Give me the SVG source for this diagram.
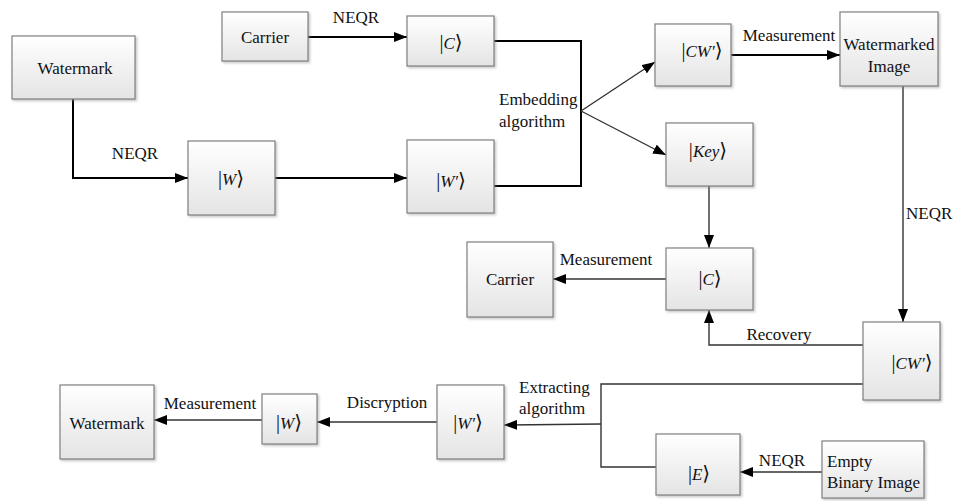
<svg xmlns="http://www.w3.org/2000/svg" width="956" height="501" viewBox="0 0 956 501">
<defs>
<linearGradient id="g" x1="0" y1="0" x2="0" y2="1"><stop offset="0" stop-color="#ffffff"/><stop offset="1" stop-color="#e4e4e4"/></linearGradient>
<filter id="sh" x="-10%" y="-10%" width="130%" height="130%"><feDropShadow dx="1.5" dy="1.5" stdDeviation="1" flood-color="#888" flood-opacity="0.5"/></filter>
<marker id="ah" markerUnits="userSpaceOnUse" markerWidth="14" markerHeight="10" refX="13" refY="5" orient="auto"><path d="M0,0 L13,5 L0,10 z" fill="#000"/></marker>
</defs>
<style>
.box{fill:url(#g);stroke:#808080;stroke-width:1.2;filter:url(#sh)}
text{font-family:'Liberation Serif','Times New Roman','DejaVu Serif',serif;font-size:17px;fill:#111}
.m{text-anchor:middle}
.k{text-anchor:middle}
.d{font-size:20px}
.i{font-style:italic}
.c{fill:none;stroke:#333;stroke-width:1.4}
.c2{fill:none;stroke:#000;stroke-width:2}
</style>
<rect width="956" height="501" fill="#fff"/>
<g id="connectors" font-family="Liberation Serif, serif">
<path class="c2" d="M73,99 V178 H188" marker-end="url(#ah)"/>
<path class="c2" d="M308,37 H407" marker-end="url(#ah)"/>
<path class="c2" d="M275,178 H407" marker-end="url(#ah)"/>
<path class="c2" d="M494,41 H581 V186 H494"/>
<path class="c" d="M581,111 L655,62" marker-end="url(#ah)"/>
<path class="c" d="M581,111 L666,155" marker-end="url(#ah)"/>
<path class="c2" d="M731,55 H840" marker-end="url(#ah)"/>
<path class="c" d="M903,86 V322" marker-end="url(#ah)"/>
<path class="c" d="M709,186 V248" marker-end="url(#ah)"/>
<path class="c" d="M666,279 H553" marker-end="url(#ah)"/>
<path class="c" d="M863,345 H709 V310" marker-end="url(#ah)"/>
<path class="c" d="M863,384 H601 V467 H656"/>
<path class="c" d="M601,424 L504,425" marker-end="url(#ah)"/>
<path class="c" d="M822,472 H740" marker-end="url(#ah)"/>
<path class="c" d="M437,422 H317" marker-end="url(#ah)"/>
<path class="c" d="M262,420 H154" marker-end="url(#ah)"/>
<text class="m" x="135" y="159">NEQR</text>
<text class="m" x="356" y="23">NEQR</text>
<text x="499" y="105">Embedding</text>
<text x="499" y="127">algorithm</text>
<text class="m" x="789" y="41">Measurement</text>
<text x="906" y="219">NEQR</text>
<text class="m" x="606" y="265">Measurement</text>
<text class="m" x="779" y="340">Recovery</text>
<text x="519" y="393">Extracting</text>
<text x="519" y="414">algorithm</text>
<text class="m" x="782" y="466">NEQR</text>
<text class="m" x="387" y="408">Discryption</text>
<text class="m" x="210" y="409">Measurement</text>
</g>
<g id="watermark-top"><rect class="box" x="12" y="36" width="123" height="63"/><text class="m" x="75" y="74">Watermark</text></g>
<g id="carrier-top"><rect class="box" x="222" y="12" width="86" height="49"/><text class="m" x="265" y="43">Carrier</text></g>
<g id="ket-w-top"><rect class="box" x="188" y="141" width="87" height="74"/><text class="k" x="231" y="185"><tspan class="d">|</tspan><tspan class="i">W</tspan><tspan class="d">⟩</tspan></text></g>
<g id="ket-c-top"><rect class="box" x="407" y="16" width="87" height="50"/><text class="k" x="451" y="49"><tspan class="d">|</tspan><tspan class="i">C</tspan><tspan class="d">⟩</tspan></text></g>
<g id="ket-wp-top"><rect class="box" x="407" y="140" width="87" height="73"/><text class="k" x="451" y="187"><tspan class="d">|</tspan><tspan class="i">W′</tspan><tspan class="d">⟩</tspan></text></g>
<g id="ket-cw-top"><rect class="box" x="655" y="24" width="76" height="62"/><text class="k" x="702" y="57"><tspan class="d">|</tspan><tspan class="i">CW′</tspan><tspan class="d">⟩</tspan></text></g>
<g id="watermarked-image"><rect class="box" x="840" y="12" width="98" height="74"/><text class="m" x="889" y="50">Watermarked</text><text class="m" x="889" y="72">Image</text></g>
<g id="ket-key"><rect class="box" x="666" y="123" width="87" height="63"/><text class="k" x="708" y="157"><tspan class="d">|</tspan><tspan class="i">Key</tspan><tspan class="d">⟩</tspan></text></g>
<g id="ket-c-bottom"><rect class="box" x="666" y="248" width="87" height="62"/><text class="k" x="710" y="285"><tspan class="d">|</tspan><tspan class="i">C</tspan><tspan class="d">⟩</tspan></text></g>
<g id="carrier-bottom"><rect class="box" x="467" y="242" width="86" height="75"/><text class="m" x="510" y="285">Carrier</text></g>
<g id="ket-cw-bottom"><rect class="box" x="863" y="322" width="77" height="78"/><text class="k" x="912" y="369"><tspan class="d">|</tspan><tspan class="i">CW′</tspan><tspan class="d">⟩</tspan></text></g>
<g id="ket-wp-bottom"><rect class="box" x="437" y="385" width="67" height="74"/><text class="k" x="468" y="429"><tspan class="d">|</tspan><tspan class="i">W′</tspan><tspan class="d">⟩</tspan></text></g>
<g id="ket-e"><rect class="box" x="656" y="434" width="84" height="61"/><text class="k" x="699" y="480"><tspan class="d">|</tspan><tspan class="i">E</tspan><tspan class="d">⟩</tspan></text></g>
<g id="empty-binary-image"><rect class="box" x="822" y="441" width="102" height="57"/><text x="827" y="467">Empty</text><text x="827" y="488">Binary Image</text></g>
<g id="ket-w-bottom"><rect class="box" x="262" y="394" width="55" height="50"/><text class="k" x="289" y="429"><tspan class="d">|</tspan><tspan class="i">W</tspan><tspan class="d">⟩</tspan></text></g>
<g id="watermark-bottom"><rect class="box" x="60" y="385" width="94" height="74"/><text class="m" x="107" y="429">Watermark</text></g>
</svg>
